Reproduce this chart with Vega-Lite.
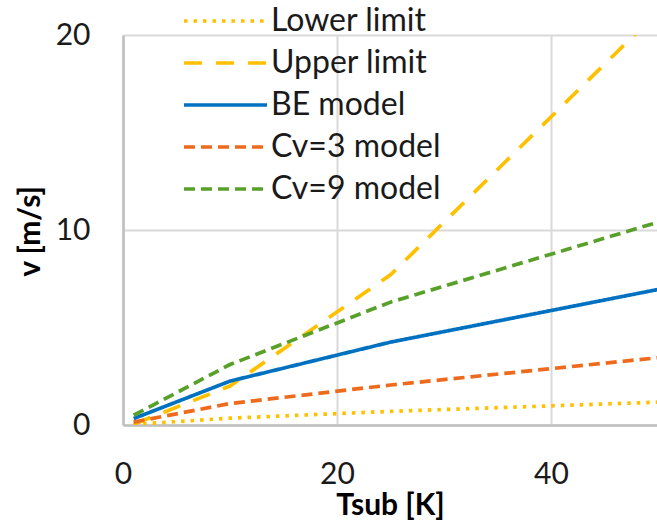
{
  "$schema": "https://vega.github.io/schema/vega-lite/v6.json",
  "width": 535,
  "height": 390,
  "autosize": {"type": "none"},
  "padding": {"left": 123, "top": 35, "right": 0, "bottom": 96},
  "background": "white",
  "config": {
    "font": "Lato",
    "view": {"stroke": null},
    "axis": {
      "labelFont": "Lato",
      "labelFontSize": 30,
      "labelColor": "#1a1a1a",
      "labelFlush": false,
      "titleFont": "Lato",
      "titleFontSize": 30,
      "titleFontWeight": "bold",
      "titleColor": "#000000",
      "ticks": false,
      "tickSize": 0,
      "domainColor": "#BFBFBF",
      "domainWidth": 2.5,
      "gridColor": "#D9D9D9",
      "gridWidth": 2
    }
  },
  "data": {
    "values": [
      {"series": "Lower limit", "t": 1, "v": 0.03},
      {"series": "Lower limit", "t": 10, "v": 0.35},
      {"series": "Lower limit", "t": 25, "v": 0.7},
      {"series": "Lower limit", "t": 50, "v": 1.17},
      {"series": "Upper limit", "t": 1, "v": 0.04},
      {"series": "Upper limit", "t": 10, "v": 2.0},
      {"series": "Upper limit", "t": 25, "v": 7.7},
      {"series": "Upper limit", "t": 50, "v": 21.2},
      {"series": "BE model", "t": 1, "v": 0.33},
      {"series": "BE model", "t": 10, "v": 2.25},
      {"series": "BE model", "t": 25, "v": 4.25},
      {"series": "BE model", "t": 50, "v": 6.95},
      {"series": "Cv=3 model", "t": 1, "v": 0.15},
      {"series": "Cv=3 model", "t": 10, "v": 1.1},
      {"series": "Cv=3 model", "t": 25, "v": 2.05},
      {"series": "Cv=3 model", "t": 50, "v": 3.45},
      {"series": "Cv=9 model", "t": 1, "v": 0.5},
      {"series": "Cv=9 model", "t": 10, "v": 3.1},
      {"series": "Cv=9 model", "t": 25, "v": 6.3},
      {"series": "Cv=9 model", "t": 50, "v": 10.4}
    ]
  },
  "mark": {"type": "line", "strokeWidth": 3.7, "clip": true},
  "encoding": {
    "x": {
      "field": "t",
      "type": "quantitative",
      "scale": {"domain": [0, 50], "nice": false},
      "axis": {
        "values": [0, 20, 40],
        "title": "Tsub [K]",
        "labelPadding": 34,
        "titleX": 267,
        "titleY": 80,
        "titleBaseline": "middle",
        "titleAlign": "center",
        "grid": true
      }
    },
    "y": {
      "field": "v",
      "type": "quantitative",
      "scale": {"domain": [0, 20], "nice": false},
      "axis": {
        "values": [0, 10, 20],
        "title": "v [m/s]",
        "labelPadding": 33,
        "titleX": -93,
        "titleY": 196,
        "titleAngle": -90,
        "titleAlign": "center",
        "titleBaseline": "middle"
      }
    },
    "color": {
      "field": "series",
      "type": "nominal",
      "scale": {
        "domain": ["Lower limit", "Upper limit", "BE model", "Cv=3 model", "Cv=9 model"],
        "range": ["#FFC000", "#FFC000", "#0070C0", "#EE6A1C", "#58A02A"]
      },
      "legend": {
        "title": null,
        "orient": "none",
        "legendX": 59,
        "legendY": -25,
        "padding": 0,
        "symbolType": "stroke",
        "symbolSize": 6889,
        "symbolStrokeWidth": 3.7,
        "clipHeight": 22,
        "rowPadding": 10,
        "labelOffset": 2,
        "labelFont": "Lato",
        "labelFontSize": 32,
        "labelColor": "#1a1a1a",
        "labelLimit": 400
      }
    },
    "strokeDash": {
      "field": "series",
      "type": "nominal",
      "scale": {
        "domain": ["Lower limit", "Upper limit", "BE model", "Cv=3 model", "Cv=9 model"],
        "range": [[3.5, 6], [18, 14], [1, 0], [11, 6], [11, 6]]
      },
      "legend": null
    }
  }
}
